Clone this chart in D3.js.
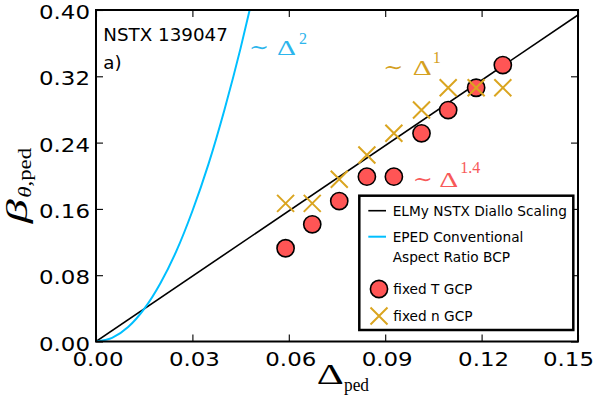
<!DOCTYPE html>
<html><head><meta charset="utf-8">
<script src="https://cdn.jsdelivr.net/npm/d3@7"></script>
<style>body{margin:0;background:#fff}</style>
</head><body><svg id="c" width="598" height="398"></svg>
<script>
// ---- data ----
const pedWidth   = [0.0590, 0.0673, 0.0757, 0.0843, 0.0927, 0.1013, 0.1096, 0.1183, 0.1266];
const betaFixedT = [0.1125, 0.1414, 0.1695, 0.1989, 0.1989, 0.2512, 0.2793, 0.3062, 0.3336];
const betaFixedN = [0.1667, 0.1667, 0.1957, 0.2250, 0.2512, 0.2793, 0.3062, 0.3062, 0.3062];
const dialloDelta = [0, 0.15];
const dialloBeta  = [0, 0.394];
const epedDelta = [0, 0.005, 0.010, 0.015, 0.020, 0.025, 0.030, 0.035, 0.040, 0.045, 0.048];
const epedBeta  = [0, 0.0044, 0.0175, 0.0394, 0.070, 0.109, 0.1575, 0.214, 0.280, 0.354, 0.403];
const xTicks = [0, 0.03, 0.06, 0.09, 0.12, 0.15];
const yTicks = [0, 0.08, 0.16, 0.24, 0.32, 0.40];
const legendLabels = ["ELMy NSTX Diallo Scaling", "EPED Conventional", "Aspect Ratio BCP", "fixed T GCP", "fixed n GCP"];
const annoSups  = ["2", "1", "1.4"];
const annoAt    = [[0.0476, 0.3466], [0.0894, 0.3216], [0.0986, 0.1876]];

const RED = "#ff5555", GOLD = "#daa520", BLUE = "#00bfff";
const annoColors = ["#2cb5ec", "#d4a021", "#f75959"];
const annoDeltaOff = [28, 29.5, 26.5];
const annoSupGap = [3, 1, 2];
const annoRaise = [10.3, 11.7, 13.3];

const W = 598, H = 398, m = {l: 96, t: 10, r: 20, b: 56.5};
const svg = d3.select("#c");
const x = d3.scaleLinear().domain([0, 0.15]).range([m.l, W - m.r]);
const y = d3.scaleLinear().domain([0, 0.40]).range([H - m.b, m.t]);

svg.append("defs").append("clipPath").attr("id", "clip")
  .append("rect").attr("x", m.l).attr("y", m.t)
  .attr("width", W - m.l - m.r).attr("height", H - m.t - m.b);

const line = d3.line().x(d => x(d[0])).y(d => y(d[1]));
const plot = svg.append("g").attr("clip-path", "url(#clip)");

plot.append("path").datum(dialloDelta.map((d, i) => [d, dialloBeta[i]]))
  .attr("d", line).attr("fill", "none").attr("stroke", "#000").attr("stroke-width", 1.6);
plot.append("path").datum(epedDelta.map((d, i) => [d, epedBeta[i]]))
  .attr("d", line.curve(d3.curveMonotoneX)).attr("fill", "none").attr("stroke", BLUE).attr("stroke-width", 2);

plot.selectAll("circle.t").data(pedWidth.map((d, i) => [d, betaFixedT[i]])).join("circle")
  .attr("class", "t").attr("cx", d => x(d[0])).attr("cy", d => y(d[1])).attr("r", 8.6)
  .attr("fill", RED).attr("stroke", "#000").attr("stroke-width", 1.6);

const xs = 8.5;
const cross = (s) => `M${-s},${-s}L${s},${s}M${-s},${s}L${s},${-s}`;
plot.selectAll("path.n").data(pedWidth.map((d, i) => [d, betaFixedN[i]])).join("path")
  .attr("class", "n").attr("transform", d => `translate(${x(d[0])},${y(d[1])})`)
  .attr("d", cross(xs)).attr("fill", "none").attr("stroke", GOLD).attr("stroke-width", 2);

// axes
const fmt = d3.format(".2f");
function styleAxis(g) {
  g.select(".domain").remove();
  g.selectAll(".tick line").attr("stroke", "#000").attr("stroke-width", 1.1);
  g.attr("font-family", "DejaVu Sans").attr("font-size", 19);
  g.selectAll("text").attr("fill", "#000").attr("textLength", 51).attr("lengthAdjust", "spacingAndGlyphs");
}
const xb = svg.append("g").attr("transform", `translate(0,${y(0)})`)
  .call(d3.axisBottom(x).tickValues(xTicks).tickFormat(fmt).tickSizeInner(-7).tickSizeOuter(0).tickPadding(11.5))
  .call(styleAxis);
// last label is pulled in so that it stays inside the figure, as in the reference
xb.selectAll(".tick text").attr("x", (d, i) => i === xTicks.length - 1 ? -10 : 1.5);
svg.append("g").attr("transform", `translate(${x(0)},0)`)
  .call(d3.axisLeft(y).tickValues(yTicks).tickFormat(fmt).tickSizeInner(-7).tickSizeOuter(0).tickPadding(6))
  .call(styleAxis).selectAll("text").attr("dy", "0.45em");
svg.append("g").attr("transform", `translate(0,${y(0.4)})`)
  .call(d3.axisTop(x).tickValues(xTicks).tickFormat("").tickSizeInner(-7).tickSizeOuter(0))
  .call(styleAxis);
svg.append("g").attr("transform", `translate(${x(0.15)},0)`)
  .call(d3.axisRight(y).tickValues(yTicks).tickFormat("").tickSizeInner(-7).tickSizeOuter(0))
  .call(styleAxis);

svg.append("rect").attr("x", m.l).attr("y", m.t)
  .attr("width", W - m.l - m.r).attr("height", H - m.t - m.b)
  .attr("fill", "none").attr("stroke", "#000").attr("stroke-width", 2);

// axis labels
svg.append("text").attr("x", 316.7).attr("y", 383.5)
  .attr("font-family", "Liberation Serif").attr("font-size", 30)
  .attr("textLength", 27).attr("lengthAdjust", "spacingAndGlyphs").text("\u0394");
svg.append("text").attr("x", 344).attr("y", 391)
  .attr("font-family", "Liberation Serif").attr("font-size", 19.5)
  .attr("textLength", 25).attr("lengthAdjust", "spacingAndGlyphs").text("ped");

const yl = svg.append("g").attr("transform", "translate(26.5,223.3) rotate(-90)");
yl.append("text").attr("x", 0).attr("y", 0)
  .attr("font-family", "Liberation Serif").attr("font-style", "italic").attr("font-size", 29)
  .attr("textLength", 24).attr("lengthAdjust", "spacingAndGlyphs").text("\u03B2");
yl.append("text").attr("x", 25.5).attr("y", 4)
  .attr("font-family", "Liberation Serif").attr("font-size", 19)
  .attr("textLength", 50).attr("lengthAdjust", "spacingAndGlyphs")
  .html('<tspan font-style="italic">\u03B8</tspan>,ped');

// in-plot labels
svg.append("text").attr("x", m.l + 7.3).attr("y", 40.7)
  .attr("font-family", "DejaVu Sans").attr("font-size", 18.3).text("NSTX 139047");
svg.append("text").attr("x", m.l + 7.3).attr("y", 69.3)
  .attr("font-family", "DejaVu Sans").attr("font-size", 18.3).text("a)");

annoSups.forEach((s, i) => {
  const px = x(annoAt[i][0]), py = y(annoAt[i][1]);
  svg.append("text").attr("x", px).attr("y", py - 0.5)
    .attr("font-family", "DejaVu Serif").attr("font-size", 20).attr("fill", annoColors[i])
    .attr("textLength", 20).attr("lengthAdjust", "spacingAndGlyphs").text("\u223C");
  svg.append("text").attr("x", px + annoDeltaOff[i]).attr("y", py + 0.5)
    .attr("font-family", "Liberation Serif").attr("font-size", 21.5).attr("fill", annoColors[i])
    .attr("textLength", 19).attr("lengthAdjust", "spacingAndGlyphs").text("\u0394");
  svg.append("text").attr("x", px + annoDeltaOff[i] + 19 + annoSupGap[i]).attr("y", py - annoRaise[i])
    .attr("font-family", "Liberation Serif").attr("font-size", 16).attr("fill", annoColors[i])
    .text(s);
});

// legend
const lg = svg.append("g").attr("font-family", "DejaVu Sans").attr("font-size", 13.7);
lg.append("rect").attr("x", 359.3).attr("y", 195.7).attr("width", 214).attr("height", 134.3)
  .attr("fill", "#fff").attr("stroke", "#000").attr("stroke-width", 2.5);
lg.append("line").attr("x1", 368.3).attr("x2", 386).attr("y1", 210.7).attr("y2", 210.7)
  .attr("stroke", "#000").attr("stroke-width", 1.6);
lg.append("line").attr("x1", 368.3).attr("x2", 386).attr("y1", 236.7).attr("y2", 236.7)
  .attr("stroke", BLUE).attr("stroke-width", 2);
lg.append("circle").attr("cx", 379).attr("cy", 289).attr("r", 8.6)
  .attr("fill", RED).attr("stroke", "#000").attr("stroke-width", 1.6);
lg.append("path").attr("transform", "translate(379,316)").attr("d", cross(xs))
  .attr("fill", "none").attr("stroke", GOLD).attr("stroke-width", 2);
const lgPos = [[392.7, 215.7], [392.7, 242.3], [392.7, 261.7], [393.3, 294], [393.3, 320.7]];
legendLabels.forEach((t, i) => {
  lg.append("text").attr("x", lgPos[i][0]).attr("y", lgPos[i][1]).text(t);
});
</script>
</body></html>
